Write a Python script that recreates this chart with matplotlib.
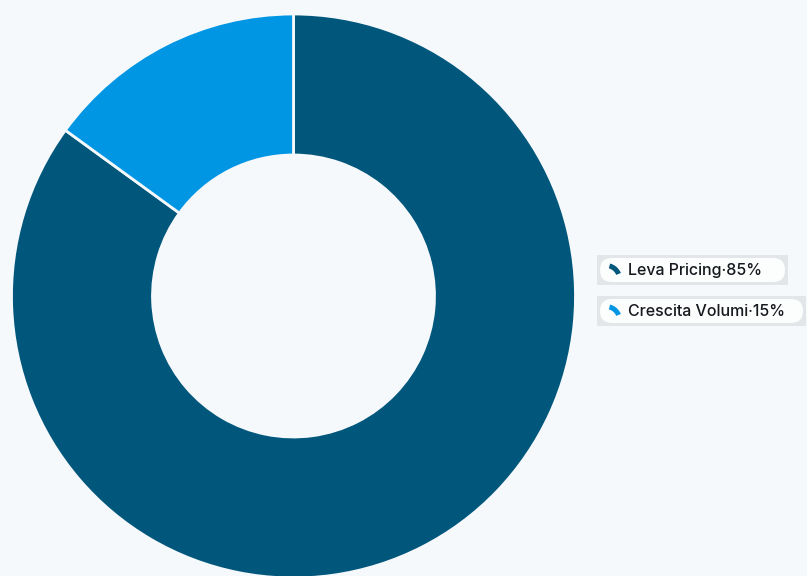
import matplotlib.pyplot as plt
from matplotlib.patches import FancyBboxPatch, Rectangle, Wedge

# Revenue growth drivers
labels = ["Leva Pricing", "Crescita Volumi"]
shares = [85, 15]
colors = ["#01567c", "#0096e4"]
bg = "#f6f9fb"

plt.rcParams['font.family'] = ['Inter', 'DejaVu Sans']

W, H = 807, 576
fig = plt.figure(figsize=(W / 100, H / 100), dpi=100)
fig.patch.set_facecolor(bg)
ax = fig.add_axes([0, 0, 1, 1])

# donut, pixel coordinates with y pointing up
cx, cy, r_out = 293.5, H - 296, 282
ax.pie(shares, colors=colors, radius=r_out, center=(cx, cy),
       startangle=90, counterclock=False, frame=True,
       wedgeprops=dict(width=r_out * 0.5, edgecolor=bg, linewidth=2))
ax.set_xlim(0, W)
ax.set_ylim(0, H)
ax.set_aspect('equal')
ax.axis('off')

# legend entries
rows = [(270, 597, 788), (311, 597, 806)]
for (yc, x0, x1), lab, val, col in zip(rows, labels, shares, colors):
    y = H - yc
    ax.add_patch(Rectangle((x0, y - 15), x1 - x0, 30, facecolor="#e2e6e9",
                           edgecolor="none", zorder=3))
    ax.add_patch(FancyBboxPatch((x0 + 3, y - 12), x1 - x0 - 6, 24,
                                boxstyle="round,pad=0,rounding_size=12",
                                facecolor="#fcfdfd", edgecolor="none", zorder=4))
    ax.add_patch(Wedge((x0 + 9, y - 9), 16, 22, 75, width=5,
                       facecolor=col, edgecolor="none", zorder=5))
    ax.text(x0 + 31, y, f"{lab}\u00b7{val}%", fontsize=11.5, fontweight='medium',
            color="#15191d", va='center', ha='left', zorder=6)

fig.savefig("out.png", dpi=100, facecolor=bg)
